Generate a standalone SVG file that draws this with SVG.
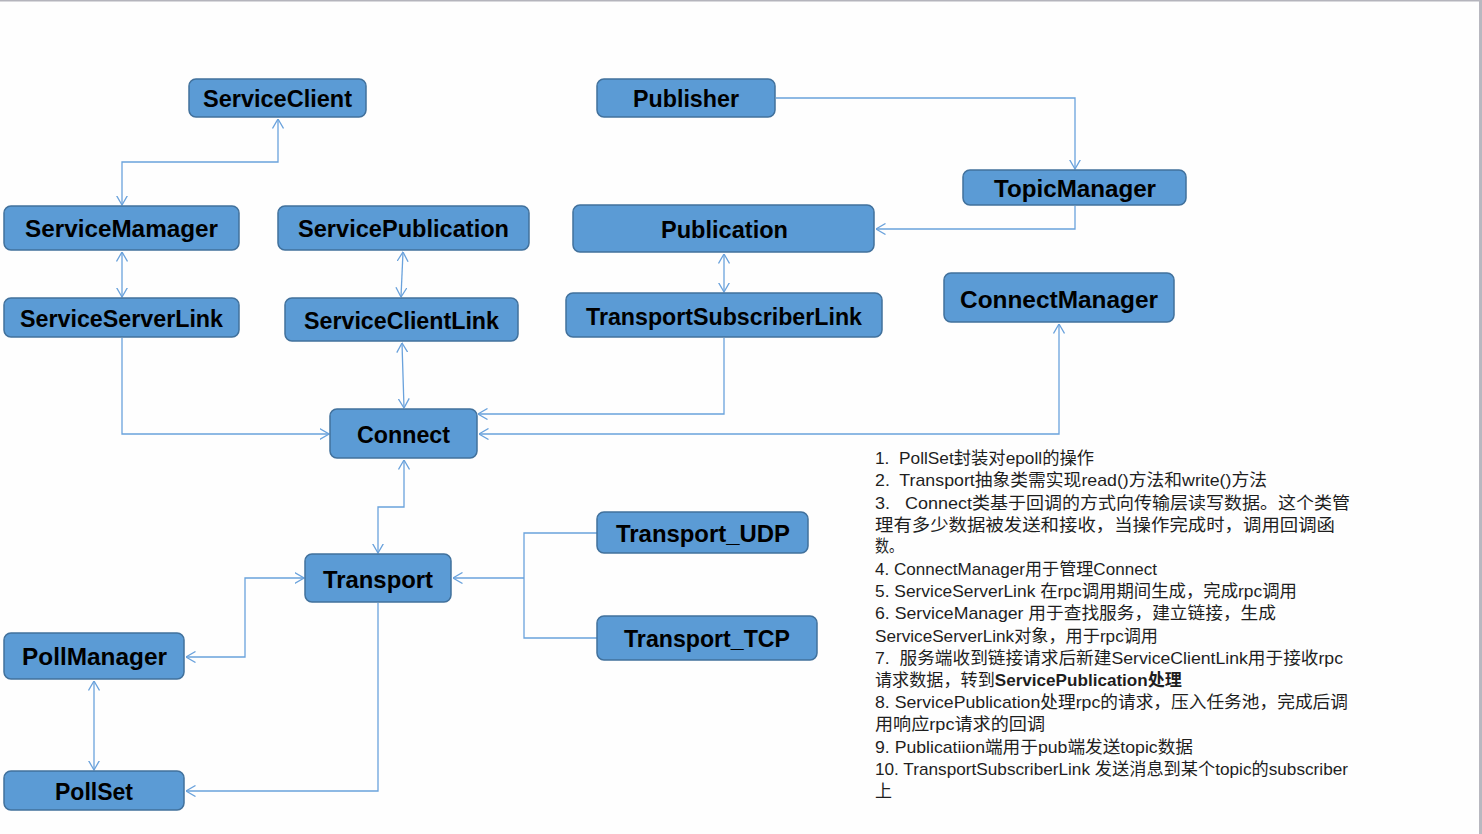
<svg xmlns="http://www.w3.org/2000/svg" width="1482" height="834" viewBox="0 0 1482 834">
<style>
.node rect{fill:#5b9bd5;stroke:#41719c;stroke-width:1.5}
.node text{font-family:"Liberation Sans",Arial,sans-serif;font-weight:bold;font-size:24px;fill:#000;text-anchor:start}
.conn path{fill:none;stroke:#6aa2dc;stroke-width:1.3}
.notes text{font-family:"Liberation Sans","Noto Sans CJK SC",sans-serif;font-size:17px;fill:#1e1e1e;white-space:pre}
</style>
<defs>
<marker id="arr" viewBox="0 0 10 12" markerWidth="10" markerHeight="12" refX="9.5" refY="6" orient="auto-start-reverse" markerUnits="userSpaceOnUse">
<path d="M0,0.5 L9.5,6 L0,11.5" fill="none" stroke="#6aa2dc" stroke-width="1.3"/>
</marker>
</defs>
<rect x="0" y="0" width="1482" height="834" fill="#fefefe"/>
<rect x="0" y="0" width="1482" height="1.5" fill="#b4b4bc"/>
<rect x="1479" y="0" width="3" height="834" fill="#b8b8c0"/>

<g class="conn" id="connectors">
<path d="M278,119 V162 H122 V205" marker-start="url(#arr)" marker-end="url(#arr)"/>
<path d="M122,252 V297" marker-start="url(#arr)" marker-end="url(#arr)"/>
<path d="M403,252 L401,297" marker-start="url(#arr)" marker-end="url(#arr)"/>
<path d="M724,254 V292" marker-start="url(#arr)" marker-end="url(#arr)"/>
<path d="M776,98 H1075 V169" marker-end="url(#arr)"/>
<path d="M1075,206 V229 H876" marker-end="url(#arr)"/>
<path d="M122,338 V434 H329" marker-end="url(#arr)"/>
<path d="M402,343 L404,408" marker-start="url(#arr)" marker-end="url(#arr)"/>
<path d="M724,338 V414 H478" marker-end="url(#arr)"/>
<path d="M1059,324 V434 H479" marker-start="url(#arr)" marker-end="url(#arr)"/>
<path d="M404,460 V507 H378 V553" marker-start="url(#arr)" marker-end="url(#arr)"/>
<path d="M304,578 H245 V657 H186" marker-start="url(#arr)" marker-end="url(#arr)"/>
<path d="M94,681 V770" marker-start="url(#arr)" marker-end="url(#arr)"/>
<path d="M378,603 V791 H186" marker-end="url(#arr)"/>
<path d="M597,533 H524 V638 H597"/>
<path d="M524,578 H453" marker-end="url(#arr)"/>
</g>

<g class="node" id="ServiceClient"><rect x="189" y="79" width="177" height="38" rx="7"/><text x="203" y="107" textLength="149" lengthAdjust="spacingAndGlyphs">ServiceClient</text></g>
<g class="node" id="Publisher"><rect x="597" y="79" width="178" height="38" rx="7"/><text x="633" y="107" textLength="106" lengthAdjust="spacingAndGlyphs">Publisher</text></g>
<g class="node" id="TopicManager"><rect x="963" y="170" width="223" height="35" rx="7"/><text x="994" y="197" textLength="162" lengthAdjust="spacingAndGlyphs">TopicManager</text></g>
<g class="node" id="ServiceMamager"><rect x="4" y="206" width="235" height="44" rx="7"/><text x="25" y="237" textLength="193" lengthAdjust="spacingAndGlyphs">ServiceMamager</text></g>
<g class="node" id="ServicePublication"><rect x="278" y="206" width="251" height="44" rx="7"/><text x="298" y="237" textLength="211" lengthAdjust="spacingAndGlyphs">ServicePublication</text></g>
<g class="node" id="Publication"><rect x="573" y="205" width="301" height="47" rx="7"/><text x="661" y="238" textLength="127" lengthAdjust="spacingAndGlyphs">Publication</text></g>
<g class="node" id="ServiceServerLink"><rect x="4" y="298" width="235" height="39" rx="7"/><text x="20" y="327" textLength="203" lengthAdjust="spacingAndGlyphs">ServiceServerLink</text></g>
<g class="node" id="ServiceClientLink"><rect x="285" y="298" width="233" height="43" rx="7"/><text x="304" y="329" textLength="195" lengthAdjust="spacingAndGlyphs">ServiceClientLink</text></g>
<g class="node" id="TransportSubscriberLink"><rect x="566" y="293" width="316" height="44" rx="7"/><text x="586" y="325" textLength="276" lengthAdjust="spacingAndGlyphs">TransportSubscriberLink</text></g>
<g class="node" id="ConnectManager"><rect x="944" y="273" width="230" height="49" rx="7"/><text x="960" y="308" textLength="198" lengthAdjust="spacingAndGlyphs">ConnectManager</text></g>
<g class="node" id="Connect"><rect x="330" y="409" width="147" height="49" rx="7"/><text x="357" y="443" textLength="93" lengthAdjust="spacingAndGlyphs">Connect</text></g>
<g class="node" id="Transport"><rect x="305" y="554" width="146" height="48" rx="7"/><text x="323" y="588" textLength="110" lengthAdjust="spacingAndGlyphs">Transport</text></g>
<g class="node" id="Transport_UDP"><rect x="597" y="512" width="211" height="41" rx="7"/><text x="616" y="542" textLength="174" lengthAdjust="spacingAndGlyphs">Transport_UDP</text></g>
<g class="node" id="Transport_TCP"><rect x="597" y="616" width="220" height="44" rx="7"/><text x="624" y="647" textLength="166" lengthAdjust="spacingAndGlyphs">Transport_TCP</text></g>
<g class="node" id="PollManager"><rect x="4" y="633" width="180" height="46" rx="7"/><text x="22" y="665" textLength="145" lengthAdjust="spacingAndGlyphs">PollManager</text></g>
<g class="node" id="PollSet"><rect x="4" y="771" width="180" height="39" rx="7"/><text x="55" y="800" textLength="78" lengthAdjust="spacingAndGlyphs">PollSet</text></g>

<g class="notes" id="notes">
<text x="875" y="464" textLength="219" lengthAdjust="spacingAndGlyphs">1.  PollSet封装对epoll的操作</text>
<text x="875" y="486" textLength="392" lengthAdjust="spacingAndGlyphs">2.  Transport抽象类需实现read()方法和write()方法</text>
<text x="875" y="509" textLength="475" lengthAdjust="spacingAndGlyphs">3.   Connect类基于回调的方式向传输层读写数据。这个类管</text>
<text x="875" y="531" textLength="460" lengthAdjust="spacingAndGlyphs">理有多少数据被发送和接收，当操作完成时，调用回调函</text>
<text x="875" y="552" textLength="28" lengthAdjust="spacingAndGlyphs">数。</text>
<text x="875" y="575" textLength="282" lengthAdjust="spacingAndGlyphs">4. ConnectManager用于管理Connect</text>
<text x="875" y="597" textLength="422" lengthAdjust="spacingAndGlyphs">5. ServiceServerLink 在rpc调用期间生成，完成rpc调用</text>
<text x="875" y="619" textLength="401" lengthAdjust="spacingAndGlyphs">6. ServiceManager 用于查找服务，建立链接，生成</text>
<text x="875" y="642" textLength="283" lengthAdjust="spacingAndGlyphs">ServiceServerLink对象，用于rpc调用</text>
<text x="875" y="664" textLength="468" lengthAdjust="spacingAndGlyphs">7.  服务端收到链接请求后新建ServiceClientLink用于接收rpc</text>
<text x="875" y="686" textLength="307" lengthAdjust="spacingAndGlyphs">请求数据，转到<tspan font-weight="bold">ServicePublication处理</tspan></text>
<text x="875" y="708" textLength="473" lengthAdjust="spacingAndGlyphs">8. ServicePublication处理rpc的请求，压入任务池，完成后调</text>
<text x="875" y="730" textLength="170" lengthAdjust="spacingAndGlyphs">用响应rpc请求的回调</text>
<text x="875" y="753" textLength="318" lengthAdjust="spacingAndGlyphs">9. Publicatiion端用于pub端发送topic数据</text>
<text x="875" y="775" textLength="473" lengthAdjust="spacingAndGlyphs">10. TransportSubscriberLink 发送消息到某个topic的subscriber</text>
<text x="875" y="797" textLength="17" lengthAdjust="spacingAndGlyphs">上</text>
</g>
</svg>
